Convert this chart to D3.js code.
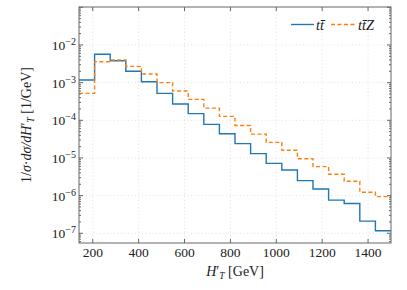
<!DOCTYPE html>
<html>
<head>
<meta charset="utf-8">
<script src="https://cdn.jsdelivr.net/npm/d3@7/dist/d3.min.js"></script>
<style>
  html, body { margin: 0; padding: 0; background: #fff; }
  svg { display: block; font-family: "Liberation Serif", "DejaVu Serif", serif; }
</style>
</head>
<body>
<div id="chart"></div>
<script>
// ── 資料 ──────────────────────────────────────────────
const binEdges = [140, 208, 276, 344, 412, 480, 548, 616, 684, 752, 820,
                  888, 956, 1024, 1092, 1160, 1228, 1296, 1364, 1432, 1500];
const ttbar  = [1.18e-3, 5.7e-3, 3.8e-3, 2.0e-3, 1.06e-3, 5.2e-4, 2.7e-4, 1.5e-4, 7.8e-5, 4.4e-5,
                2.4e-5, 1.3e-5, 7.2e-6, 4.8e-6, 2.5e-6, 1.5e-6, 7.6e-7, 6.2e-7, 2.1e-7, 1.17e-7];
const ttbarZ = [5.2e-4, 3.6e-3, 4.0e-3, 2.7e-3, 1.7e-3, 1.0e-3, 6.0e-4, 3.6e-4, 2.1e-4, 1.27e-4,
                7.3e-5, 4.3e-5, 2.6e-5, 1.6e-5, 9.5e-6, 5.9e-6, 3.7e-6, 2.4e-6, 1.23e-6, 9.4e-7];
const xTicks = [200, 400, 600, 800, 1000, 1200, 1400];
const yExps  = [-7, -6, -5, -4, -3, -2];

const W = 407, H = 290;
const M = { left: 79, right: 16, top: 7, bottom: 47 };
const BLUE = "#1f77b4", ORANGE = "#ff7f0e", SPINE = "#666";

const svg = d3.select("#chart").append("svg")
  .attr("width", W).attr("height", H);

const x = d3.scaleLinear().domain([140, 1500]).range([M.left, W - M.right]);
const y = d3.scaleLog().domain([5.52e-8, 0.102]).range([H - M.bottom, M.top]);
const x0 = M.left, x1 = W - M.right, y0 = H - M.bottom, y1 = M.top;

// ── 格線 ──
const grid = svg.append("g")
  .attr("stroke", "#ccc").attr("stroke-width", 0.6).attr("stroke-dasharray", "1,2.5");
xTicks.forEach(v => grid.append("line")
  .attr("x1", x(v)).attr("x2", x(v)).attr("y1", y0).attr("y2", y1));
yExps.forEach(e => grid.append("line")
  .attr("x1", x0).attr("x2", x1).attr("y1", y(10 ** e)).attr("y2", y(10 ** e)));

// ── 直方圖（step）──
function stepPts(vals) {
  const pts = vals.map((v, i) => [binEdges[i], v]);
  pts.push([binEdges[binEdges.length - 1], vals[vals.length - 1]]);
  return pts;
}
const line = d3.line().x(d => x(d[0])).y(d => y(d[1])).curve(d3.curveStepAfter);

svg.append("clipPath").attr("id", "clip").append("rect")
  .attr("x", x0).attr("y", y1).attr("width", x1 - x0).attr("height", y0 - y1);

svg.append("path").attr("clip-path", "url(#clip)")
  .attr("d", line(stepPts(ttbar)))
  .attr("fill", "none").attr("stroke", BLUE).attr("stroke-width", 1.4);
svg.append("path").attr("clip-path", "url(#clip)")
  .attr("d", line(stepPts(ttbarZ)))
  .attr("fill", "none").attr("stroke", ORANGE).attr("stroke-width", 1.4)
  .attr("stroke-dasharray", "4,2.5");

// ── 軸框與刻度 ──
const ax = svg.append("g").attr("stroke", SPINE).attr("fill", "none");
ax.append("rect").attr("x", x0).attr("y", y1).attr("width", x1 - x0).attr("height", y0 - y1)
  .attr("stroke-width", 1);

xTicks.forEach(v => {
  ax.append("line").attr("x1", x(v)).attr("x2", x(v)).attr("y1", y0).attr("y2", y0 - 4);
  ax.append("line").attr("x1", x(v)).attr("x2", x(v)).attr("y1", y1).attr("y2", y1 + 4);
});

// y 次刻度（2..9 × 10^k）
for (let e = -8; e <= -1; e++) {
  for (let k = 1; k <= 9; k++) {
    const v = k * 10 ** e;
    if (v < y.domain()[0] || v > y.domain()[1]) continue;
    const len = k === 1 ? 4 : 2;
    ax.append("line").attr("x1", x0).attr("x2", x0 + len).attr("y1", y(v)).attr("y2", y(v));
    ax.append("line").attr("x1", x1).attr("x2", x1 - len).attr("y1", y(v)).attr("y2", y(v));
  }
}

// ── 刻度標籤 ──
const lab = svg.append("g").attr("fill", "#222").attr("font-size", 13.5);
xTicks.forEach(v => lab.append("text")
  .attr("x", x(v)).attr("y", y0 + 14).attr("text-anchor", "middle").text(v));

yExps.forEach(e => {
  const t = lab.append("text")
    .attr("x", x0 - 3).attr("y", y(10 ** e) + 5).attr("text-anchor", "end");
  t.append("tspan").text("10");
  t.append("tspan").attr("dy", -5).attr("font-size", 10).text("\u2212" + (-e));
});

// ── 軸標題 ──
const xt = svg.append("text").attr("x", (x0 + x1) / 2).attr("y", 276)
  .attr("text-anchor", "middle").attr("font-size", 14).attr("fill", "#222");
xt.append("tspan").attr("font-style", "italic").text("H");
xt.append("tspan").text("\u2032");
xt.append("tspan").attr("font-style", "italic").attr("font-size", 9.5).attr("dy", 3).text("T");
xt.append("tspan").attr("dy", -3).text(" [GeV]");

const yt = svg.append("text")
  .attr("transform", `translate(31,${(y0 + y1) / 2}) rotate(-90)`)
  .attr("text-anchor", "middle").attr("font-size", 14).attr("fill", "#222");
yt.append("tspan").text("1/");
yt.append("tspan").attr("font-style", "italic").text("\u03c3");
yt.append("tspan").text("\u00b7");
yt.append("tspan").attr("font-style", "italic").text("d\u03c3/dH");
yt.append("tspan").text("\u2032");
yt.append("tspan").attr("font-style", "italic").attr("font-size", 9.5).attr("dy", 3).text("T");
yt.append("tspan").attr("dy", -3).text(" [1/GeV]");

// ── 圖例 ──
const leg = svg.append("g").attr("font-size", 14.5).attr("fill", "#222").attr("font-style", "italic");
leg.append("line").attr("x1", 291).attr("x2", 314).attr("y1", 24.5).attr("y2", 24.5)
  .attr("stroke", BLUE).attr("stroke-width", 1.4);
leg.append("text").attr("x", 316).attr("y", 29.5).text("tt\u0304");
leg.append("line").attr("x1", 331).attr("x2", 356).attr("y1", 24.5).attr("y2", 24.5)
  .attr("stroke", ORANGE).attr("stroke-width", 1.4).attr("stroke-dasharray", "4,2.5");
leg.append("text").attr("x", 358).attr("y", 29.5).text("tt\u0304Z");
</script>
</body>
</html>
